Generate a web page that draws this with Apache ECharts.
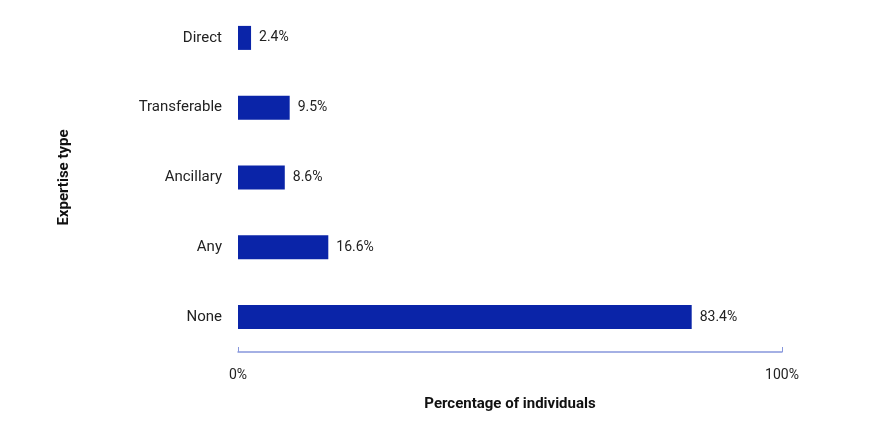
<html>
<meta charset="UTF-8">
<head>
    <script src="https://cdn.jsdelivr.net/npm/echarts@6/dist/echarts.min.js"></script>
</head>
<body style="margin:0">
<div id="chart" style="width:870px;height:435px;"></div>
<script>
    var categories = ['None', 'Any', 'Ancillary', 'Transferable', 'Direct'];
    var values = [83.4, 16.6, 8.6, 9.5, 2.4];
    var axisTicks = [0, 100];

    var chart = echarts.init(document.getElementById('chart'));
    chart.setOption({
        animation: false,
        textStyle: {fontFamily: 'Roboto'},
        grid: {left: 238, right: 88, top: 3, bottom: 83, containLabel: false},
        xAxis: {
            type: 'value',
            min: axisTicks[0],
            max: axisTicks[1],
            interval: 100,
            name: 'Percentage of individuals',
            nameLocation: 'middle',
            nameGap: 45,
            nameTextStyle: {fontWeight: 'bold', fontSize: 15, color: '#111'},
            axisLine: {show: true, lineStyle: {color: '#8797dc', width: 1.5}},
            axisTick: {show: true, inside: true, length: 5, lineStyle: {color: '#8797dc'}},
            splitLine: {show: false},
            axisLabel: {formatter: '{value}%', fontSize: 14, color: '#222', margin: 16}
        },
        yAxis: {
            type: 'category',
            data: categories,
            name: 'Expertise type',
            nameLocation: 'middle',
            nameGap: 166,
            nameTextStyle: {fontWeight: 'bold', fontSize: 15, color: '#111'},
            axisLine: {show: false},
            axisTick: {show: false},
            axisLabel: {fontSize: 15, color: '#222', margin: 16}
        },
        series: [{
            type: 'bar',
            data: values,
            barWidth: 24,
            itemStyle: {color: '#0a24a8'},
            label: {
                show: true,
                position: 'right',
                distance: 8,
                formatter: '{c}%',
                fontSize: 14,
                color: '#222'
            }
        }]
    });
</script>
</body>
</html>
